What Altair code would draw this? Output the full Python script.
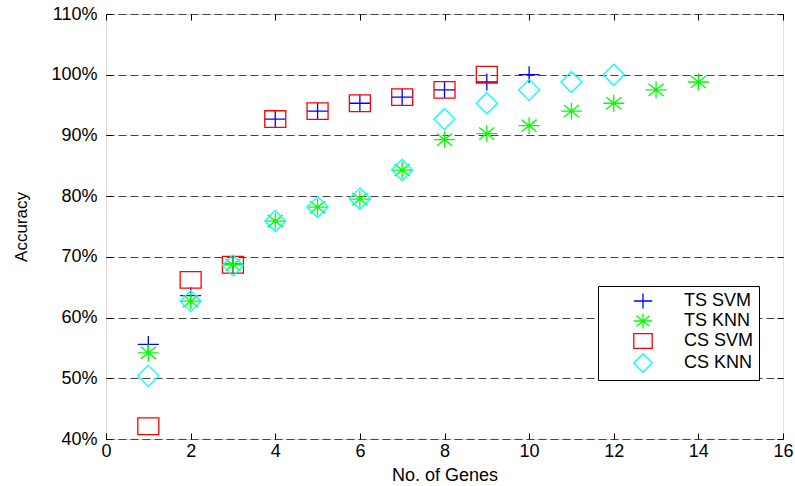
import altair as alt
import pandas as pd

series_names = ["TS SVM", "TS KNN", "CS SVM", "CS KNN"]

ts_svm_x = [1, 2, 3, 4, 5, 6, 7, 8, 9, 10]
ts_svm_y = [55.6, 63.6, 68.8, 92.7, 94.0, 95.3, 96.3, 97.5, 98.8, 100.0]

ts_knn_x = [1, 2, 3, 4, 5, 6, 7, 8, 9, 10, 11, 12, 13, 14]
ts_knn_y = [54.2, 62.7, 68.7, 75.9, 78.2, 79.5, 84.3, 89.3, 90.3, 91.6, 94.0, 95.3, 97.5, 98.8]

cs_svm_x = [1, 2, 3, 4, 5, 6, 7, 8, 9]
cs_svm_y = [42.1, 66.2, 68.7, 92.7, 94.0, 95.3, 96.3, 97.5, 100.0]

cs_knn_x = [1, 2, 3, 4, 5, 6, 7, 8, 9, 10, 11, 12]
cs_knn_y = [50.4, 62.7, 68.6, 75.9, 78.2, 79.6, 84.3, 92.7, 95.3, 97.5, 98.8, 100.0]

x_ticks = list(range(0, 17, 2))
y_ticks = list(range(40, 111, 10))

colors = ["#0000ff", "#00ff00", "#ff0000", "#00ffff"]
shapes = [
    "M-1,0H1M0,-0.8V0.8",
    "M-1,0H1M0,-0.8V0.8M-0.72,-0.58L0.72,0.58M-0.72,0.58L0.72,-0.58",
    "M-1,-0.79H1V0.79H-1Z",
    "M0,-1L1,0L0,1L-1,0Z",
]

rows = []
for name, xs, ys in zip(series_names,
                        [ts_svm_x, ts_knn_x, cs_svm_x, cs_knn_x],
                        [ts_svm_y, ts_knn_y, cs_svm_y, cs_knn_y]):
    for a, b in zip(xs, ys):
        rows.append({"genes": a, "acc": b, "series": name})
df = pd.DataFrame(rows)

FONT = "Liberation Sans"
TICK = 6

xscale = alt.Scale(domain=[0, 16], nice=False, zero=False)
yscale = alt.Scale(domain=[40, 110], nice=False, zero=False)

color = alt.Color("series:N", scale=alt.Scale(domain=series_names, range=colors),
                  legend=alt.Legend(title=None, orient="none", legendX=492, legendY=272,
                                    fillColor="white", strokeColor="black",
                                    padding=5, rowPadding=0, symbolSize=340,
                                    symbolStrokeWidth=1.3, symbolFillColor="transparent",
                                    symbolOffset=30, labelOffset=31,
                                    labelFont=FONT, labelFontSize=18, labelColor="black",
                                    cornerRadius=0))
shape = alt.Shape("series:N", scale=alt.Scale(domain=series_names, range=shapes), legend=None)

points = alt.Chart(df).mark_point(filled=False, strokeWidth=1.3, size=441, opacity=1).encode(
    x=alt.X("genes:Q", scale=xscale,
            axis=alt.Axis(values=x_ticks, title="No. of Genes", grid=False, domain=False,
                          offset=-TICK, tickSize=TICK, tickColor="black", tickWidth=1,
                          labelFlush=False, labelOverlap=False,
                          labelPadding=3, labelFont=FONT, labelFontSize=18, labelColor="black",
                          titleFont=FONT, titleFontSize=18, titleFontWeight="normal",
                          titleColor="black", titlePadding=6)),
    y=alt.Y("acc:Q", scale=yscale,
            axis=alt.Axis(values=y_ticks, title="Accuracy", labelExpr="datum.value + '%'",
                          grid=True, gridDash=[8, 4], gridColor="#444444", gridWidth=1.2,
                          labelFlush=False, labelOverlap=False,
                          domain=False, offset=-TICK, tickSize=TICK, tickColor="black",
                          tickWidth=1, labelPadding=9, labelFont=FONT, labelFontSize=18,
                          labelColor="black", titleFont=FONT, titleFontSize=17,
                          titleFontWeight="normal", titleColor="black", titlePadding=20)),
    color=color,
    shape=shape,
)

mirror = alt.Chart(df).mark_point(opacity=0).encode(
    x=alt.X("genes:Q", scale=xscale,
            axis=alt.Axis(orient="top", values=x_ticks, title=None, labels=False, grid=False,
                          domain=False, offset=-TICK, tickSize=TICK, tickColor="black")),
    y=alt.Y("acc:Q", scale=yscale,
            axis=alt.Axis(orient="right", values=y_ticks, title=None, labels=False, grid=False,
                          domain=False, offset=-TICK, tickSize=TICK, tickColor="black")),
)

chart = alt.layer(mirror, points).resolve_axis(x="independent", y="independent").properties(
    width=677, height=425,
    autosize=alt.AutoSizeParams(type="none"),
    padding={"left": 106, "top": 14, "right": 12, "bottom": 47},
).configure_view(stroke="black", strokeWidth=1.5).configure(background="white")

chart.save("out.html", embed_options={"renderer": "svg", "actions": False})
